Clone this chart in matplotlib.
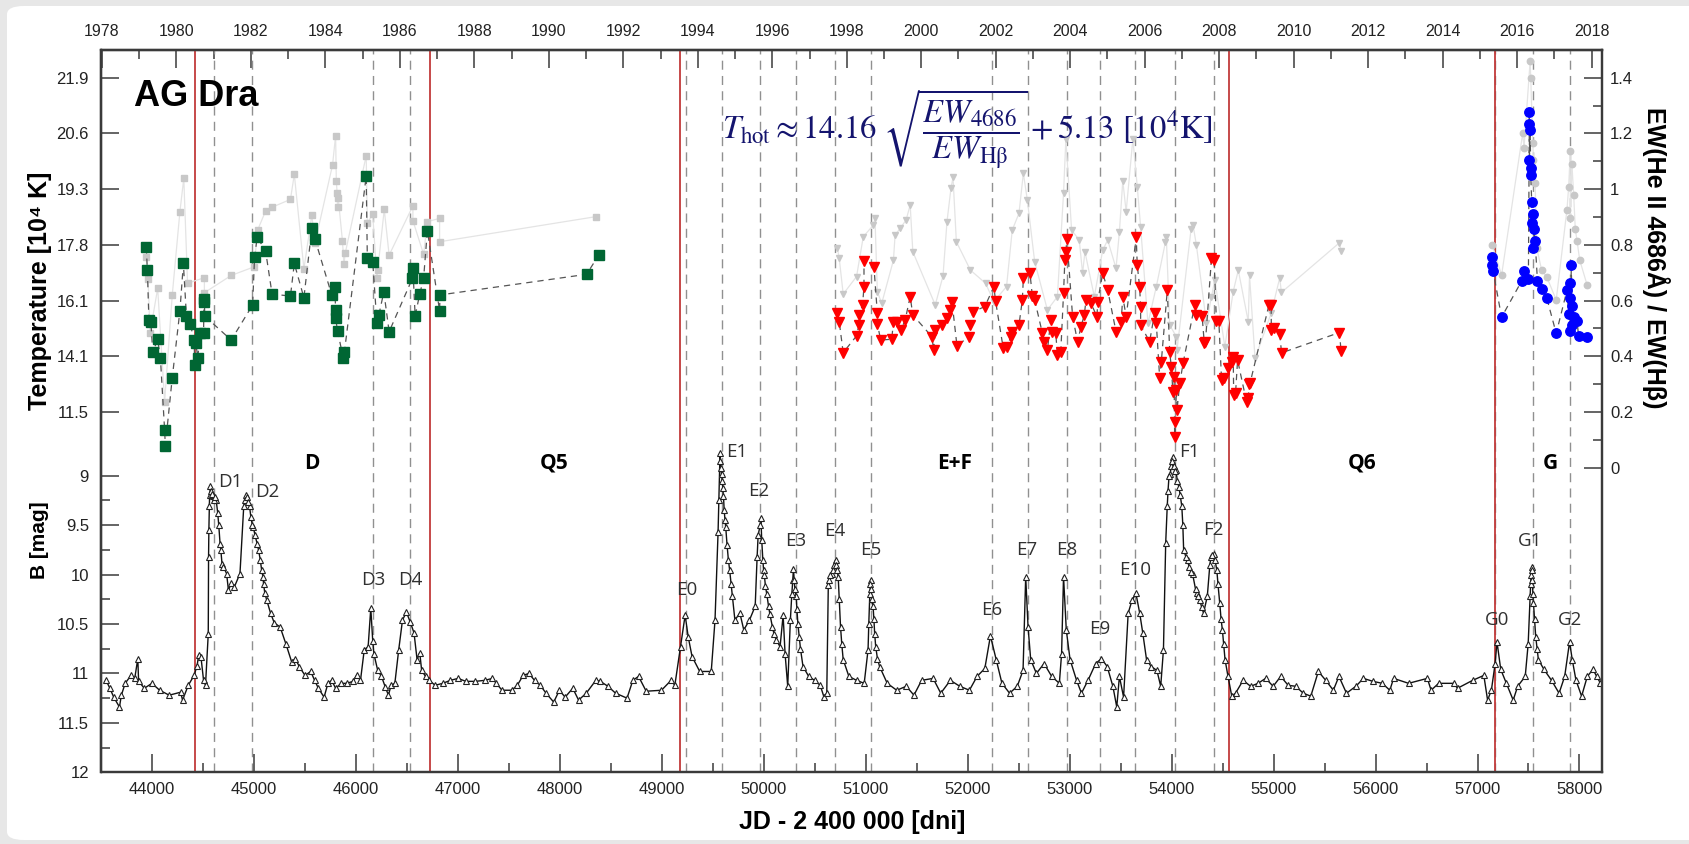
import numpy as np
import matplotlib
matplotlib.use("Agg")
import matplotlib.pyplot as plt
from matplotlib.patches import FancyBboxPatch
from matplotlib.ticker import FixedLocator, MultipleLocator

plt.rcParams['font.family'] = ['Liberation Sans', 'DejaVu Sans']
plt.rcParams['mathtext.fontset'] = 'stix'

# ---------------- data ----------------
# B light curve (JD-2400000, B mag)
b_jd = [43550, 43587, 43625, 43681, 43700, 43737, 43794, 43831, 43861, 43869, 43925, 44000, 44075, 44169,
        44281, 44300, 44356, 44413, 44443, 44458, 44480, 44506, 44525,
        44552, 44555, 44558, 44563, 44574, 44600, 44630, 44645, 44668, 44687, 44732, 44750, 44776, 44806,
        44863, 44900, 44919, 44957, 44994, 45032, 45062, 45088, 45107, 45126, 45163, 45200, 45257, 45313,
        45369, 45407, 45444, 45501, 45557, 45595, 45632, 45688, 45726, 45763, 45801, 45857, 45914, 45970,
        46007, 46045, 46082, 46120, 46146, 46165, 46176, 46214, 46251, 46289, 46319, 46345, 46382, 46420,
        46457, 46495, 46533, 46570, 46600, 46626, 46645, 46683, 46720, 46777, 46852, 46927, 47002, 47077,
        47171, 47264, 47339, 47377, 47433, 47527, 47583, 47640, 47696, 47752, 47808, 47865, 47940, 47996,
        48052, 48127, 48184, 48259, 48353, 48397, 48472, 48547, 48659, 48716, 48772, 48847, 48997, 49091,
        49128, 49184, 49229, 49259, 49297, 49372, 49485, 49522, 49552, 49571, 49586, 49605, 49627, 49653,
        49691, 49717, 49766, 49804, 49860, 49916, 49935, 49972, 49991, 50017, 50047, 50085, 50122, 50160,
        50190, 50209, 50235, 50261, 50291, 50318, 50348, 50385, 50441, 50498, 50554, 50591, 50618, 50633,
        50666, 50704, 50730, 50753, 50779, 50835, 50910, 50985, 51023, 51049, 51072, 51098, 51136, 51211,
        51304, 51398, 51473, 51548, 51661, 51736, 51830, 51923, 52017, 52092, 52168, 52223, 52280, 52336,
        52411, 52486, 52543, 52569, 52592, 52618, 52674, 52749, 52824, 52899, 52921, 52940, 52967, 53004,
        53068, 53116, 53180, 53255, 53312, 53368, 53424, 53462, 53488, 53529, 53574, 53612, 53650, 53687,
        53717, 53754, 53800, 53856, 53893, 53920, 53942, 53957, 53987, 54013, 54043, 54070, 54100, 54118,
        54156, 54205, 54250, 54277, 54313, 54350, 54387, 54413, 54443, 54472, 54498, 54524, 54553, 54590,
        54627, 54701, 54775, 54848, 54922, 54996, 55070, 55143, 55217, 55291, 55365, 55439, 55512, 55586,
        55641, 55715, 55807, 55881, 55974, 56066, 56140, 56177, 56324, 56508, 56545, 56619, 56767, 56804,
        56952, 57062, 57099, 57136, 57173, 57191, 57228, 57283, 57350, 57394, 57468, 57497, 57516, 57534,
        57549, 57571, 57597, 57652, 57726, 57800, 57855, 57903, 57929, 57966, 58021, 58077, 58132, 58169,
        58206,
        # additional observations in the outburst maxima
        44565, 44580, 44590, 44610, 44620, 44655, 44675, 44700,
        44910, 44930, 44945, 44970, 44985, 45010, 45045, 45075, 45095,
        49560, 49575, 49580, 49592, 49598, 49612, 49620, 49640, 49665, 49680,
        49945, 49965, 49980, 49998, 50005, 50030, 50060, 50100,
        50275, 50285, 50298, 50305, 50325, 50335, 50360,
        50640, 50650, 50680, 50690, 50710, 50718, 50740, 50765,
        51030, 51040, 51045, 51055, 51060, 51080, 51088, 51115,
        53965, 53975, 53995, 54000, 54020, 54030, 54055, 54085, 54110,
        54140, 54170, 54190, 54235, 54260, 54295,
        54375, 54400, 54425, 54455, 54485, 54510,
        57520, 57525, 57530, 57538, 57543, 57560, 57585]
b_mag = [11.07, 11.15, 11.24, 11.34, 11.22, 11.10, 11.02, 11.05, 10.85, 11.08, 11.15, 11.10, 11.17, 11.22,
         11.19, 11.27, 11.12, 11.02, 10.92, 10.81, 10.83, 11.07, 11.12,
         10.60, 9.82, 9.55, 9.31, 9.10, 9.21, 9.25, 9.38, 9.69, 9.89, 9.99, 10.16, 10.09, 10.13,
         9.99, 9.31, 9.20, 9.31, 9.52, 9.69, 9.85, 10.02, 10.19, 10.26, 10.39, 10.49, 10.53, 10.70,
         10.88, 10.85, 10.93, 11.02, 10.98, 11.07, 11.15, 11.24, 11.10, 11.07, 11.15, 11.10, 11.10, 11.08,
         11.02, 11.07, 10.76, 10.73, 10.34, 10.67, 10.80, 10.97, 11.03, 11.14, 11.22, 11.12, 11.10, 10.76,
         10.46, 10.38, 10.48, 10.59, 10.86, 10.79, 10.97, 11.03, 11.07, 11.12, 11.10, 11.07, 11.05, 11.08,
         11.08, 11.07, 11.05, 11.10, 11.17, 11.17, 11.12, 11.02, 11.00, 11.07, 11.12, 11.20, 11.29, 11.17,
         11.24, 11.15, 11.27, 11.20, 11.07, 11.08, 11.13, 11.20, 11.25, 11.07, 11.03, 11.18, 11.17, 11.07,
         11.12, 10.73, 10.41, 10.63, 10.83, 10.98, 10.98, 10.46, 9.57, 8.77, 8.98, 9.21, 9.52, 9.85,
         10.22, 10.46, 10.39, 10.56, 10.46, 10.32, 9.82, 9.43, 9.85, 10.12, 10.32, 10.53, 10.66, 10.73,
         10.41, 10.80, 11.13, 10.46, 9.94, 10.22, 10.63, 10.93, 11.03, 11.07, 11.12, 11.24, 11.20, 10.11,
         9.99, 9.85, 10.02, 10.53, 10.86, 11.03, 11.07, 11.10, 10.76, 10.05, 10.32, 10.73, 10.93, 11.10,
         11.17, 11.13, 11.22, 11.07, 11.05, 11.20, 11.07, 11.13, 11.17, 11.03, 10.95, 10.62, 10.86, 11.10,
         11.20, 11.13, 10.97, 10.02, 10.53, 10.86, 11.00, 10.90, 11.03, 11.10, 10.80, 10.02, 10.56, 10.86,
         11.07, 11.20, 11.07, 10.90, 10.85, 10.93, 11.13, 11.34, 11.03, 11.24, 10.39, 10.26, 10.19, 10.39,
         10.59, 10.86, 10.93, 10.97, 11.13, 10.76, 9.68, 9.31, 8.98, 8.81, 8.94, 9.11, 9.31, 9.75,
         9.85, 9.99, 10.19, 10.26, 10.39, 10.22, 9.82, 9.79, 9.95, 10.29, 10.56, 10.86, 11.03, 11.23,
         11.20, 11.07, 11.13, 11.10, 11.05, 11.13, 11.03, 11.12, 11.13, 11.20, 11.23, 10.98, 11.07, 11.17,
         11.03, 11.20, 11.13, 11.05, 11.08, 11.10, 11.17, 11.05, 11.10, 11.05, 11.17, 11.10, 11.10, 11.15,
         11.07, 11.02, 11.27, 11.17, 10.90, 10.68, 10.96, 11.10, 11.27, 11.13, 11.03, 10.70, 10.22, 9.92,
         10.29, 10.63, 10.86, 10.96, 11.07, 11.20, 11.03, 10.68, 10.86, 11.07, 11.23, 11.03, 10.96, 11.03,
         11.10,
         9.20, 9.15, 9.18, 9.25, 9.22, 9.50, 9.75, 9.92,
         9.25, 9.22, 9.27, 9.42, 9.50, 9.60, 9.75, 9.95, 10.10,
         9.25, 8.85, 8.92, 9.05, 9.12, 9.35, 9.45, 9.70, 9.95, 10.10,
         9.60, 9.50, 9.65, 9.95, 10.00, 10.20, 10.40, 10.60,
         10.20, 10.05, 10.05, 10.15, 10.35, 10.50, 10.75,
         10.05, 10.00, 9.95, 9.90, 9.90, 9.95, 10.25, 10.70,
         10.50, 10.20, 10.10, 10.15, 10.25, 10.45, 10.60, 10.85,
         9.15, 9.00, 8.90, 8.85, 8.90, 8.95, 9.05, 9.20, 9.50,
         9.82, 9.92, 9.97, 10.15, 10.22, 10.33,
         9.90, 9.80, 9.85, 10.10, 10.45, 10.70,
         10.10, 10.00, 9.95, 10.05, 10.20, 10.45, 10.75]

# EW(HeII)/EW(Hb) -- 1979-1991 (temperature, green) and grey ratio points
green_jd = [43944, 43955, 43970, 43989, 44008, 44056, 44083, 44124, 44131, 44199, 44274, 44308, 44338,
            44375, 44413, 44420, 44431, 44450, 44469, 44506, 44510, 44514, 44518, 44777, 44987, 45006,
            45032, 45114, 45178, 45358, 45396, 45490, 45568, 45598, 45763, 45793, 45801, 45801, 45820,
            45876, 45887, 46101, 46112, 46165, 46206, 46225, 46274, 46326, 46555, 46559, 46581, 46626,
            46664, 46701, 46821, 46825, 48262, 48382]
green_r = [0.791, 0.709, 0.530, 0.524, 0.414, 0.461, 0.392, 0.135, 0.079, 0.323, 0.563, 0.733, 0.544,
           0.516, 0.458, 0.368, 0.446, 0.392, 0.482, 0.482, 0.605, 0.596, 0.544, 0.458, 0.584, 0.755,
           0.827, 0.779, 0.623, 0.616, 0.733, 0.610, 0.859, 0.821, 0.620, 0.650, 0.566, 0.536, 0.492,
           0.392, 0.414, 1.047, 0.752, 0.739, 0.518, 0.548, 0.631, 0.488, 0.680, 0.716, 0.545, 0.623,
           0.680, 0.851, 0.563, 0.620, 0.694, 0.763]
greyD_jd = [43944, 43962, 43981, 44056, 44124, 44199, 44274, 44312, 44349, 44514, 44514, 44777, 45002,
            45036, 45114, 45178, 45358, 45396, 45490, 45568, 45598, 45771, 45801, 45808, 45816, 45820,
            45827, 45868, 45883, 45895, 46101, 46112, 46165, 46206, 46214, 46278, 46326, 46559, 46559,
            46664, 46701, 46821, 46821, 48352]
greyD_r = [0.757, 0.676, 0.483, 0.644, 0.237, 0.620, 0.919, 1.039, 0.662, 0.682, 0.628, 0.690, 0.721,
           0.853, 0.921, 0.935, 0.963, 1.053, 0.714, 0.907, 0.805, 1.087, 1.192, 1.029, 0.985, 0.935,
           0.967, 0.814, 0.730, 0.769, 1.120, 0.879, 0.909, 0.682, 0.709, 0.927, 0.763, 0.940, 0.887,
           0.766, 0.883, 0.895, 0.811, 0.901]

# 1997-2011 (red) and grey ratio points
red_jd = [50723, 50740, 50779, 50910, 50933, 50933, 50969, 50983, 50983, 51081, 51114, 51114, 51147,
          51255, 51272, 51304, 51344, 51387, 51436, 51462, 51649, 51666, 51682, 51748, 51797, 51830,
          51846, 51895, 52010, 52027, 52053, 52168, 52257, 52273, 52349, 52388, 52421, 52437, 52503,
          52536, 52546, 52611, 52634, 52657, 52733, 52749, 52782, 52815, 52831, 52864, 52880, 52913,
          52940, 52953, 52963, 52973, 53029, 53078, 53111, 53144, 53160, 53209, 53268, 53275, 53324,
          53373, 53455, 53505, 53521, 53554, 53653, 53663, 53686, 53696, 53696, 53784, 53833, 53850,
          53883, 53899, 53958, 53981, 53997, 54013, 54024, 54030, 54037, 54047, 54053, 54080, 54112,
          54227, 54243, 54299, 54320, 54332, 54391, 54417, 54439, 54463, 54490, 54515, 54555, 54592,
          54604, 54609, 54627, 54647, 54736, 54752, 54760, 54769, 54954, 54976, 54978, 55009, 55061,
          55078, 55646, 55662]
red_r = [0.556, 0.524, 0.413, 0.473, 0.512, 0.548, 0.584, 0.650, 0.743, 0.719, 0.554, 0.516, 0.458,
         0.461, 0.524, 0.524, 0.494, 0.530, 0.614, 0.548, 0.470, 0.422, 0.494, 0.512, 0.536, 0.566,
         0.596, 0.437, 0.470, 0.512, 0.560, 0.578, 0.650, 0.599, 0.428, 0.434, 0.470, 0.488, 0.512,
         0.602, 0.680, 0.698, 0.616, 0.602, 0.482, 0.452, 0.422, 0.530, 0.488, 0.482, 0.404, 0.416,
         0.626, 0.745, 0.775, 0.820, 0.542, 0.452, 0.506, 0.548, 0.602, 0.590, 0.542, 0.596, 0.698,
         0.638, 0.488, 0.524, 0.614, 0.542, 0.827, 0.727, 0.650, 0.578, 0.512, 0.452, 0.554, 0.518,
         0.321, 0.380, 0.638, 0.416, 0.362, 0.271, 0.326, 0.111, 0.165, 0.279, 0.207, 0.303, 0.374,
         0.584, 0.548, 0.545, 0.449, 0.452, 0.752, 0.745, 0.528, 0.527, 0.314, 0.321, 0.357, 0.381,
         0.398, 0.259, 0.267, 0.386, 0.234, 0.249, 0.302, 0.303, 0.583, 0.584, 0.494, 0.500, 0.479,
         0.412, 0.485, 0.418]
greyE_jd = [50723, 50740, 50779, 50910, 50976, 51075, 51091, 51114, 51157, 51272, 51288, 51337, 51396,
            51436, 51462, 51682, 51758, 51797, 51836, 51856, 51889, 52027, 52175, 52257, 52381, 52437,
            52503, 52546, 52585, 52657, 52782, 52880, 52940, 52963, 53019, 53094, 53127, 53150, 53242,
            53324, 53373, 53455, 53488, 53521, 53554, 53620, 53663, 53696, 53768, 53850, 53939, 53948,
            53981, 54047, 54053, 54191, 54210, 54243, 54342, 54391, 54424, 54522, 54604, 54654, 54752,
            54764, 54818, 54976, 55060, 55077, 55645, 55662]
greyE_r = [0.787, 0.752, 0.623, 0.686, 0.829, 0.871, 0.895, 0.632, 0.590, 0.745, 0.835, 0.859, 0.889,
           0.943, 0.775, 0.584, 0.688, 0.883, 1.003, 1.042, 0.811, 0.709, 0.662, 0.596, 0.650, 0.853,
           0.913, 1.057, 0.961, 0.739, 0.566, 0.614, 0.985, 1.180, 0.853, 0.817, 0.698, 0.775, 0.614,
           0.781, 0.817, 0.716, 0.847, 1.030, 0.919, 1.180, 1.009, 0.865, 0.518, 0.650, 0.809, 0.829,
           0.512, 0.470, 0.422, 0.857, 0.871, 0.799, 0.518, 0.614, 0.674, 0.434, 0.632, 0.709, 0.524,
           0.690, 0.392, 0.554, 0.681, 0.629, 0.807, 0.779]

# 2015-2018 (blue) and grey ratio points
blue_jd = [57144, 57144, 57154, 57236, 57433, 57456, 57499, 57509, 57509, 57516, 57509, 57522, 57522,
           57532, 57549, 57532, 57555, 57565, 57549, 57588, 57630, 57680, 57772, 57920, 57904, 57877,
           57910, 57926, 57894, 57943, 57926, 57976, 57910, 57992, 58074]
blue_r = [0.756, 0.728, 0.705, 0.540, 0.670, 0.705, 0.677, 1.276, 1.235, 1.214, 1.104, 1.077, 1.049,
          0.953, 0.911, 0.877, 0.856, 0.815, 0.787, 0.670, 0.643, 0.608, 0.482, 0.728, 0.664, 0.636,
          0.608, 0.581, 0.553, 0.540, 0.512, 0.526, 0.491, 0.471, 0.468]
greyG_jd = [57144, 57236, 57443, 57456, 57516, 57522, 57542, 57549, 57565, 57582, 57630, 57680, 57772,
            57877, 57894, 57910, 57910, 57926, 57943, 57959, 57976, 58002, 58074]
greyG_r = [0.801, 0.691, 1.200, 1.148, 1.459, 1.400, 1.166, 1.104, 1.021, 0.787, 0.708, 0.684, 0.602,
           0.925, 1.008, 1.138, 0.898, 1.090, 0.980, 0.856, 0.815, 0.746, 0.657]

# boundaries between activity stages (red) and outburst maxima (dashed)
stage_jd = [44425, 46725, 49175, 54565, 57170]
stage_names = ['D', 'Q5', 'E+F', 'Q6', 'G']
stage_label_jd = [45572, 47944, 51869, 55870, 57714]
outburst_names = ['D1', 'D2', 'D3', 'D4', 'E0', 'E1', 'E2', 'E3', 'E4', 'E5', 'E6', 'E7', 'E8', 'E9',
                  'E10', 'F1', 'F2', 'G0', 'G1', 'G2']
outburst_jd = [44607, 44979, 46172, 46529, 49241, 49590, 49962, 50317, 50697, 51054, 52243, 52592,
               52975, 53293, 53642, 54032, 54413, 57175, 57541, 57910]
outburst_label_jd = [44770, 45127, 46171, 46530, 49240, 49732, 49953, 50311, 50697, 51050, 52235,
                     52580, 52974, 53293, 53642, 54176, 54406, 57190, 57511, 57910]
outburst_label_mag = [9.06, 9.16, 10.055, 10.055, 10.16, 8.76, 9.15, 9.66, 9.56, 9.75, 10.36, 9.75,
                      9.75, 10.55, 9.95, 8.76, 9.55, 10.46, 9.66, 10.46]

# axis ticks
b_ticks = [9, 9.5, 10, 10.5, 11, 11.5, 12]
b_ticklabels = ['9', '9.5', '10', '10.5', '11', '11.5', '12']
ratio_ticks = [0, 0.2, 0.4, 0.6, 0.8, 1.0, 1.2, 1.4]
ratio_ticklabels = ['0', '0.2', '0.4', '0.6', '0.8', '1', '1.2', '1.4']
temp_ticks = [0.2, 0.4, 0.6, 0.8, 1.0, 1.2, 1.4]
temp_ticklabels = ['11.5', '14.1', '16.1', '17.8', '19.3', '20.6', '21.9']
year_ticks = list(range(1978, 2019, 2))

# ---------------- figure ----------------
W, H = 1690, 844
fig = plt.figure(figsize=(W / 100, H / 100), dpi=100, facecolor='#e7e7e7')
fig.patches.append(FancyBboxPatch((7 / W, 4 / H), 1.1, 1 - 10 / H,
                                  boxstyle='round,pad=0,rounding_size=0.01',
                                  transform=fig.transFigure, facecolor='white',
                                  edgecolor='none', zorder=-10))

ax = fig.add_axes([101.5 / W, 1 - 772.3 / H, 1500.3 / W, 722.3 / H])
ax.set_facecolor('none')
ax.set_xlim(43505, 58219)
ax.set_ylim(12, 4.694)

spc = '#3a3a3a'
for s in ax.spines.values():
    s.set_linewidth(1.6)
    s.set_color(spc)

# vertical markers
for x in outburst_jd:
    ax.axvline(x, color='#909090', lw=1.0, ls=(0, (6.5, 4.5)), zorder=1)
for x in stage_jd:
    ax.axvline(x, color='#c23a3a', lw=1.3, zorder=2)

# B light curve
o = np.argsort(b_jd, kind='stable')
ax.plot(np.asarray(b_jd)[o], np.asarray(b_mag)[o], '-', color='#111111', lw=1.0, zorder=3)
ax.plot(b_jd, b_mag, '^', ms=5, mfc='white', mec='#222222', mew=0.8, ls='none', zorder=4)

for name, xj, ym in zip(outburst_names, outburst_label_jd, outburst_label_mag):
    ax.text(xj, ym, name, ha='center', va='center', fontsize=13.5,
            family=['Open Sans', 'DejaVu Sans'], color='#303030', zorder=6)
for name, xj in zip(stage_names, stage_label_jd):
    ax.text(xj, 8.875, name, ha='center', va='center', fontsize=15, weight='bold',
            family=['Open Sans', 'DejaVu Sans'], color='black', zorder=6)

ax.xaxis.set_major_locator(MultipleLocator(1000))
ax.xaxis.set_minor_locator(MultipleLocator(500))
ax.yaxis.set_major_locator(FixedLocator(b_ticks))
ax.set_yticklabels(b_ticklabels)
ax.yaxis.set_minor_locator(FixedLocator([9.25, 9.75, 10.25, 10.75, 11.25, 11.75]))
ax.tick_params(axis='x', which='major', direction='in', length=13, width=1.1, color=spc,
               pad=7, labelsize=12, labelcolor='#222222')
ax.tick_params(axis='x', which='minor', direction='in', length=6.5, width=1.1, color=spc)
ax.tick_params(axis='y', which='major', direction='in', length=13, width=1.1, color=spc,
               pad=9, labelsize=12, labelcolor='#222222')
ax.tick_params(axis='y', which='minor', direction='in', length=6.5, width=1.1, color=spc)
for lab in ax.get_xticklabels():
    lab.set_family(['Liberation Sans Narrow', 'Liberation Sans'])

# top year axis
def jd2yr(j):
    return 2000.0 + (np.asarray(j) - 51544.5) / 365.25

def yr2jd(y):
    return 51544.5 + (np.asarray(y) - 2000.0) * 365.25

secx = ax.secondary_xaxis('top', functions=(jd2yr, yr2jd))
secx.set_xticks(year_ticks)
secx.xaxis.set_minor_locator(MultipleLocator(1))
secx.tick_params(which='major', direction='in', length=13, width=1.1, color=spc, pad=8,
                 labelsize=11.5, labelcolor='#222222')
secx.tick_params(which='minor', direction='in', length=6.5, width=1.1, color=spc)
secx.spines['top'].set_linewidth(1.6)
secx.spines['top'].set_color(spc)

# ratio axis
axr = ax.twinx()
axr.set_ylim(-1.094, 1.4995)
for s in axr.spines.values():
    s.set_linewidth(1.6)
    s.set_color(spc)
axr.yaxis.set_major_locator(FixedLocator(ratio_ticks))
axr.set_yticklabels(ratio_ticklabels)
axr.yaxis.set_minor_locator(FixedLocator([0.1, 0.3, 0.5, 0.7, 0.9, 1.1, 1.3]))
axr.tick_params(axis='y', which='major', direction='in', length=13, width=1.1, color=spc,
                pad=6, labelsize=12, labelcolor='#222222')
axr.tick_params(axis='y', which='minor', direction='in', length=6.5, width=1.1, color=spc)

secy = axr.secondary_yaxis('left')
secy.set_yticks(temp_ticks)
secy.set_yticklabels(temp_ticklabels)
secy.tick_params(which='major', direction='in', length=13, width=1.1, color=spc, pad=9,
                 labelsize=12, labelcolor='#222222')
secy.spines['left'].set_linewidth(1.6)
secy.spines['left'].set_color(spc)


def series(jd, r, marker, ms_col, ms_grey, col, gjd, gr):
    o = np.argsort(gjd, kind='stable')
    axr.plot(np.asarray(gjd)[o], np.asarray(gr)[o], '-', color='#e4e4e4', lw=0.9, zorder=3)
    axr.plot(gjd, gr, marker, color='#c8c8c8', ms=ms_grey, ls='none', zorder=4)
    o = np.argsort(jd, kind='stable')
    axr.plot(np.asarray(jd)[o], np.asarray(r)[o], color='#555555', lw=0.9,
             ls=(0, (5, 4)), zorder=5)
    axr.plot(jd, r, marker, color=col, ms=ms_col, ls='none', zorder=6)


series(green_jd, green_r, 's', 6.5, 4.2, '#006633', greyD_jd, greyD_r)
series(red_jd, red_r, 'v', 6.5, 4.2, '#ff0000', greyE_jd, greyE_r)
series(blue_jd, blue_r, 'o', 6.8, 4.6, '#0000ff', greyG_jd, greyG_r)

# texts
fig.text(40 / W, 1 - 291 / H, 'Temperature [10⁴ K]', rotation=90, ha='center', va='center',
         fontsize=18, weight='bold')
fig.text(40 / W, 1 - 540 / H, 'B [mag]', rotation=90, ha='center', va='center',
         fontsize=15, weight='bold')
fig.text(1656 / W, 1 - 258 / H, 'EW(He II 4686Å) / EW(Hβ)', rotation=-90, ha='center',
         va='center', fontsize=18, weight='bold')
fig.text(852 / W, 1 - 822 / H, 'JD - 2 400 000 [dni]', ha='center', va='center', fontsize=18,
         weight='bold', family=['Liberation Sans Narrow', 'Liberation Sans'])
fig.text(134 / W, 1 - 96 / H, 'AG Dra', ha='left', va='center', fontsize=26, weight='bold')
fig.text(721.7 / W, 1 - 129.3 / H,
         r'$T_{\mathrm{hot}} \approx 14.16\ \sqrt{\dfrac{EW_{4686}}{EW_{\mathrm{H\beta}}}} + 5.13\ [10^4\mathrm{K}]$',
         ha='left', va='center', fontsize=23.5, color='#14146e')

fig.savefig('out.png', dpi=100, facecolor=fig.get_facecolor())
